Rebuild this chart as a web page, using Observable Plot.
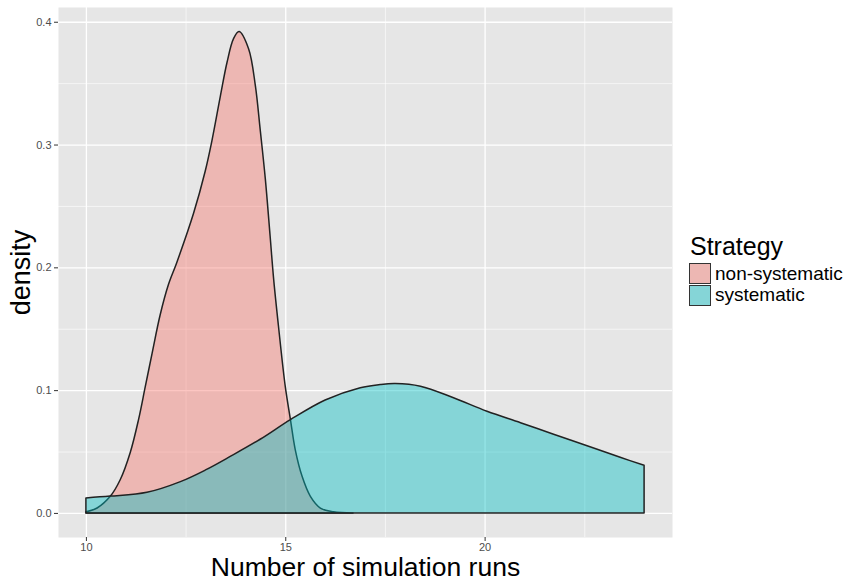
<!DOCTYPE html>
<html><head><meta charset="utf-8">
<script src="https://cdn.jsdelivr.net/npm/d3@7"></script>
<script src="https://cdn.jsdelivr.net/npm/@observablehq/plot@0.6"></script>
<style>
body{margin:0;background:#fff;font-family:"Liberation Sans",Arial,Helvetica,sans-serif;}
#wrap{position:relative;width:851px;height:582px;}
#legend{position:absolute;left:0;top:0;}
.lg-title{position:absolute;left:690px;top:234px;font-size:25px;line-height:25px;color:#000;white-space:nowrap;}
.lg-key{position:absolute;left:689px;width:22px;height:21px;background:#E6E6E6;}
.lg-key div{position:absolute;left:0;top:0;width:20px;height:19px;border:1px solid #333;}
.lg-lab{position:absolute;left:715px;font-size:19px;line-height:19px;color:#000;white-space:nowrap;}
</style></head><body><div id="wrap"></div>
<script>
const strategies = ["non-systematic", "systematic"];
const fillColors = ["#F8766D", "#00BFC4"];

const nonSysRuns = [10.0, 10.28, 10.61, 10.86, 11.11, 11.32, 11.49, 11.66, 11.86, 12.07, 12.28, 12.70, 12.99, 13.16, 13.37, 13.54, 13.70, 13.84, 14.08, 14.25, 14.37, 14.50, 14.62, 14.71, 14.83, 15.00, 15.13, 15.25, 15.42, 15.63, 15.88, 16.21, 16.70];
const nonSysDensity = [0.001, 0.004, 0.0135, 0.027, 0.049, 0.076, 0.103, 0.130, 0.161, 0.186, 0.204, 0.244, 0.278, 0.303, 0.339, 0.367, 0.386, 0.392, 0.378, 0.348, 0.3125, 0.272, 0.2255, 0.190, 0.152, 0.103, 0.076, 0.0516, 0.030, 0.0135, 0.004, 0.001, 0.0];

const sysRuns = [10.0, 10.61, 11.53, 12.37, 13.0, 13.62, 14.37, 15.13, 16.0, 16.88, 17.38, 17.76, 18.39, 19.22, 20.06, 20.90, 21.73, 22.57, 23.40, 24.0];
const sysDensity = [0.0122, 0.0137, 0.0168, 0.0255, 0.035, 0.046, 0.060, 0.076, 0.092, 0.102, 0.1046, 0.1054, 0.1032, 0.0938, 0.0828, 0.0735, 0.0641, 0.0547, 0.0453, 0.0388];

const xTicks = [10, 15, 20];
const xMinor = [12.5, 17.5, 22.5];
const yTicks = [0, 0.1, 0.2, 0.3, 0.4];
const yMinor = [0.05, 0.15, 0.25, 0.35];
const xTitle = "Number of simulation runs";
const yTitle = "density";
const legendTitle = "Strategy";

const rows = [
  ...nonSysRuns.map((x, i) => ({strategy: strategies[0], x, y: nonSysDensity[i]})),
  ...sysRuns.map((x, i) => ({strategy: strategies[1], x, y: sysDensity[i]}))
];

const fillAlpha = 0.42;
const font = '"Liberation Sans", Arial, Helvetica, sans-serif';
const chart = Plot.plot({
  width: 851, height: 582,
  marginLeft: 58, marginRight: 179, marginTop: 7, marginBottom: 45,
  style: {fontFamily: font, background: "white", overflow: "visible"},
  x: {domain: [9.3, 24.7]},
  y: {domain: [-0.0196, 0.412]},
  color: {domain: strategies, range: fillColors},
  marks: [
    Plot.frame({fill: "#E6E6E6"}),
    Plot.ruleX(xMinor, {stroke: "white", strokeWidth: 0.6}),
    Plot.ruleY(yMinor, {stroke: "white", strokeWidth: 0.6}),
    Plot.ruleX(xTicks, {stroke: "white", strokeWidth: 1.3}),
    Plot.ruleY(yTicks, {stroke: "white", strokeWidth: 1.3}),
    Plot.areaY(rows, {x: "x", y1: 0, y2: "y", z: "strategy", fill: "strategy", fillOpacity: fillAlpha,
      stroke: "#222", strokeWidth: 1.5, curve: "catmull-rom"}),
    Plot.axisX({ticks: xTicks, tickSize: 4, tickPadding: 2, stroke: "#333", fill: "#4D4D4D", fontSize: 11, label: null, tickFormat: d => String(d)}),
    Plot.axisY({ticks: yTicks, tickSize: 4, tickPadding: 3, stroke: "#333", fill: "#4D4D4D", fontSize: 11, label: null, tickFormat: d3.format(".1f")}),
    Plot.text([xTitle], {frameAnchor: "bottom", lineAnchor: "middle", textAnchor: "middle", dy: 30, fontSize: 26.5, fill: "black", text: d => d}),
    Plot.text([yTitle], {frameAnchor: "left", lineAnchor: "middle", textAnchor: "middle", dx: -37, rotate: -90, fontSize: 27, fill: "black", text: d => d})
  ]
});
const wrap = document.getElementById("wrap");
wrap.appendChild(chart);

const legend = document.createElement("div");
legend.id = "legend";
const t = document.createElement("div");
t.className = "lg-title"; t.textContent = legendTitle;
legend.appendChild(t);
const keyTops = [263, 285];
const labTops = [264, 285];
strategies.forEach((s, i) => {
  const k = document.createElement("div");
  k.className = "lg-key"; k.style.top = keyTops[i] + "px";
  const inner = document.createElement("div");
  const c = d3.color(fillColors[i]); c.opacity = fillAlpha;
  inner.style.background = c.formatRgb();
  k.appendChild(inner);
  legend.appendChild(k);
  const l = document.createElement("div");
  l.className = "lg-lab"; l.style.top = labTops[i] + "px"; l.textContent = s;
  legend.appendChild(l);
});
wrap.appendChild(legend);
</script></body></html>
